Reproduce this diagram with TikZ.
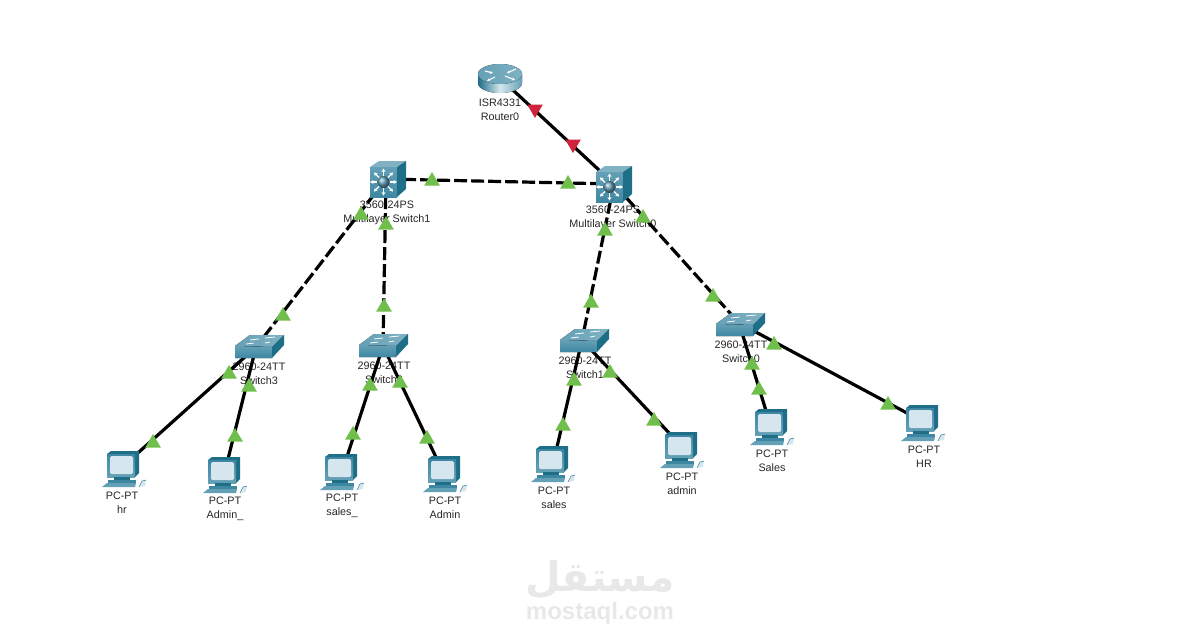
\documentclass[tikz,border=0pt]{standalone}
\usepackage{fontspec}
\setmainfont{Liberation Sans}
\newfontfamily\arabicfont[Script=Arabic]{DejaVu Sans}
\TeXXeTstate=1
\usetikzlibrary{shapes.geometric, arrows.meta}
\definecolor{linkgreen}{RGB}{112, 190, 75}
\definecolor{linkred}{RGB}{205, 35, 60}
\definecolor{devfront}{RGB}{62, 135, 162}
\definecolor{devlight}{RGB}{100, 160, 182}
\definecolor{devtop}{RGB}{128, 178, 196}
\definecolor{devside}{RGB}{30, 110, 135}
\definecolor{devpale}{RGB}{214, 230, 238}
\definecolor{markgray}{RGB}{232, 232, 232}
\tikzset{
  anchorpt/.style={inner sep=0pt, minimum size=0pt},
  devlabel/.style={font=\fontsize{10.8}{14}\selectfont, align=center, text=black!85, inner sep=0pt},
  trunk/.style={line width=3.2pt, black, dash pattern=on 13pt off 4pt},
  wire/.style={line width=3.2pt, black},
  linkup/.style={regular polygon, regular polygon sides=3, fill=linkgreen, minimum size=18pt, inner sep=0pt},
  linkdown/.style={regular polygon, regular polygon sides=3, shape border rotate=180, fill=linkred, minimum size=18pt, inner sep=0pt},
  pics/routericon/.style={code={
    \fill[left color=devside, right color=devlight, middle color=devpale] (-22,-5) -- (-22,4) arc[start angle=180, end angle=0, x radius=22, y radius=10] -- (22,-5) -- cycle;
    \fill[left color=devlight, right color=devtop] (0,-5) ellipse[x radius=22, y radius=10];
    \draw[white, line width=1.1pt, -{Stealth[length=3pt,width=3pt]}] (-15,-8) -- (-7,-6);
    \draw[white, line width=1.1pt, -{Stealth[length=3pt,width=3pt]}] (16,-10) -- (7,-6);
    \draw[white, line width=1.1pt, -{Stealth[length=3pt,width=3pt]}] (-5,-2) -- (-13,2);
    \draw[white, line width=1.1pt, -{Stealth[length=3pt,width=3pt]}] (5,-3) -- (15,1);
  }},
  pics/mlswitchicon/.style={code={
    \fill[devtop] (0,6) -- (9,0) -- (36,0) -- (27,6) -- cycle;
    \fill[top color=devlight, bottom color=devfront] (0,6) rectangle (27,36);
    \fill[devside] (27,6) -- (36,0) -- (36,28) -- (27,36) -- cycle;
    \foreach \ang in {0,45,...,315}
      \draw[white, line width=1.1pt, -{Stealth[length=3.5pt,width=4pt]}] (13.5,21) ++(\ang:6) -- ++(\ang:7.5);
    \shade[ball color=devlight] (13.5,21) circle[radius=6];
  }},
  pics/switchicon/.style={code={
    \fill[left color=devlight, right color=devtop] (0,11) -- (15,0) -- (49,0) -- (37,12) -- cycle;
    \fill[top color=devlight, bottom color=devfront] (0,11) -- (37,12) -- (37,23) -- (0,23) -- cycle;
    \fill[devside] (37,12) -- (49,0) -- (49,10) -- (37,23) -- cycle;
    \draw[white, line width=0.8pt] (15,5) -- (24,4) (30,3) -- (40,2) (11,9) -- (19,8) (30,8) -- (35,7);
  }},
  pics/pcicon/.style={code={
    \fill[devside] (5,3) -- (9,0) -- (37,0) -- (37,22) -- (33,26) -- cycle;
    \fill[top color=devfront, bottom color=devlight] (5,3) rectangle (33,26);
    \fill[devpale, rounded corners=1.5pt] (8,5) rectangle (31,23);
    \fill[devside] (12,26) rectangle (28,29);
    \fill[devfront] (6,29) rectangle (34,32);
    \fill[devlight] (0,36) -- (5,32) -- (34,32) -- (33,36) -- cycle;
    \fill[devpale] (37,36) -- (40,30) -- (44,29) -- (43,35) -- cycle;
    \draw[devfront, line width=0.6pt] (37,36) -- (40,30) -- (44,29);
  }}
}
\begin{document}
\begin{tikzpicture}[x=1pt, y=-1pt]
  \useasboundingbox (0,0) rectangle (1202,638);

  % Device centres
  \node[anchorpt] (router0) at (500,78) {};
  \node[anchorpt] (mls0) at (614,184) {};
  \node[anchorpt] (mls1) at (386,179) {};
  \node[anchorpt] (sw3) at (256,347) {};
  \node[anchorpt] (sw2) at (383,346) {};
  \node[anchorpt] (sw1) at (582,340) {};
  \node[anchorpt] (sw0) at (739,323) {};
  \node[anchorpt] (pchr) at (120,469) {};
  \node[anchorpt] (pcadminb) at (224,475) {};
  \node[anchorpt] (pcsalesb) at (342,472) {};
  \node[anchorpt] (pcadmin) at (444,474) {};
  \node[anchorpt] (pcsales) at (553,464) {};
  \node[anchorpt] (pcadminc) at (685,450) {};
  \node[anchorpt] (pcsalesc) at (771,427) {};
  \node[anchorpt] (pchrb) at (920,420) {};

  % Labels
  \node[devlabel] (lbrouter) at (500,110) {ISR4331\\Router0};
  \node[devlabel] (lbmls1) at (387,213) {3560-24PS\\Multilayer Switch1};
  \node[devlabel] (lbmls0) at (613,218) {3560-24PS\\Multilayer Switch0};
  \node[devlabel] (lbsw3) at (259,374) {2960-24TT\\Switch3};
  \node[devlabel] (lbsw2) at (384,373) {2960-24TT\\Switch2};
  \node[devlabel] (lbsw1) at (585,368) {2960-24TT\\Switch1};
  \node[devlabel] (lbsw0) at (741,352) {2960-24TT\\Switch0};
  \node[devlabel] (lbhr) at (122,503) {PC-PT\\hr};
  \node[devlabel] (lbadminb) at (225,509) {PC-PT\\Admin\_};
  \node[devlabel] (lbsalesb) at (342,506) {PC-PT\\sales\_};
  \node[devlabel] (lbadmin) at (445,508) {PC-PT\\Admin};
  \node[devlabel] (lbsales) at (554,498) {PC-PT\\sales};
  \node[devlabel] (lbadminc) at (682,484) {PC-PT\\admin};
  \node[devlabel] (lbsalesc) at (772,461) {PC-PT\\Sales};
  \node[devlabel] (lbhrb) at (924,457) {PC-PT\\HR};

  % Links
  \draw[wire] (router0) -- (mls0);
  \draw[trunk] (mls1) -- (mls0);
  \draw[trunk] (mls1) -- (sw3);
  \draw[trunk] (mls1) -- (sw2);
  \draw[trunk] (mls0) -- (sw1);
  \draw[trunk] (mls0) -- (sw0);
  \draw[wire] (sw3) -- (pchr);
  \draw[wire] (sw3) -- (pcadminb);
  \draw[wire] (sw2) -- (pcsalesb);
  \draw[wire] (sw2) -- (pcadmin);
  \draw[wire] (sw1) -- (pcsales);
  \draw[wire] (sw1) -- (pcadminc);
  \draw[wire] (sw0) -- (pcsalesc);
  \draw[wire] (sw0) -- (pchrb);

  % Devices
  \pic at (500,79) {routericon};
  \pic at (596,166) {mlswitchicon};
  \pic at (370,161) {mlswitchicon};
  \pic at (235,335) {switchicon};
  \pic at (359,334) {switchicon};
  \pic at (560,329) {switchicon};
  \pic at (716,313) {switchicon};
  \pic at (102,451) {pcicon};
  \pic at (203,457) {pcicon};
  \pic at (320,454) {pcicon};
  \pic at (423,456) {pcicon};
  \pic at (531,446) {pcicon};
  \pic at (660,432) {pcicon};
  \pic at (750,409) {pcicon};
  \pic at (901,405) {pcicon};

  % Router link status
  \node[linkdown] (st1) at (535,109) {};
  \node[linkdown] (st2) at (573,144) {};

  % Trunk link status
  \node[linkup] (st3) at (432,181) {};
  \node[linkup] (st4) at (568,184) {};
  \node[linkup] (st5) at (361,215) {};
  \node[linkup] (st6) at (283,316) {};
  \node[linkup] (st7) at (386,225) {};
  \node[linkup] (st8) at (384,307) {};
  \node[linkup] (st9) at (605,231) {};
  \node[linkup] (st10) at (591,303) {};
  \node[linkup] (st11) at (643,218) {};
  \node[linkup] (st12) at (713,297) {};

  % Access link status
  \node[linkup] (st13) at (229,374) {};
  \node[linkup] (st14) at (153,443) {};
  \node[linkup] (st15) at (249,387) {};
  \node[linkup] (st16) at (235,437) {};
  \node[linkup] (st17) at (370,386) {};
  \node[linkup] (st18) at (353,435) {};
  \node[linkup] (st19) at (400,383) {};
  \node[linkup] (st20) at (427,439) {};
  \node[linkup] (st21) at (574,381) {};
  \node[linkup] (st22) at (563,426) {};
  \node[linkup] (st23) at (610,373) {};
  \node[linkup] (st24) at (654,421) {};
  \node[linkup] (st25) at (752,365) {};
  \node[linkup] (st26) at (759,390) {};
  \node[linkup] (st27) at (774,345) {};
  \node[linkup] (st28) at (888,405) {};

  % Watermark
  \node[font=\fontsize{41}{41}\selectfont\bfseries, text=markgray, inner sep=0pt] (markar) at (600,580) {\arabicfont\beginR مستقل\endR};
  \node[font=\fontsize{24}{24}\selectfont\bfseries, text=markgray, inner sep=0pt] (markla) at (600,613) {mostaql.com};
\end{tikzpicture}
\end{document}
